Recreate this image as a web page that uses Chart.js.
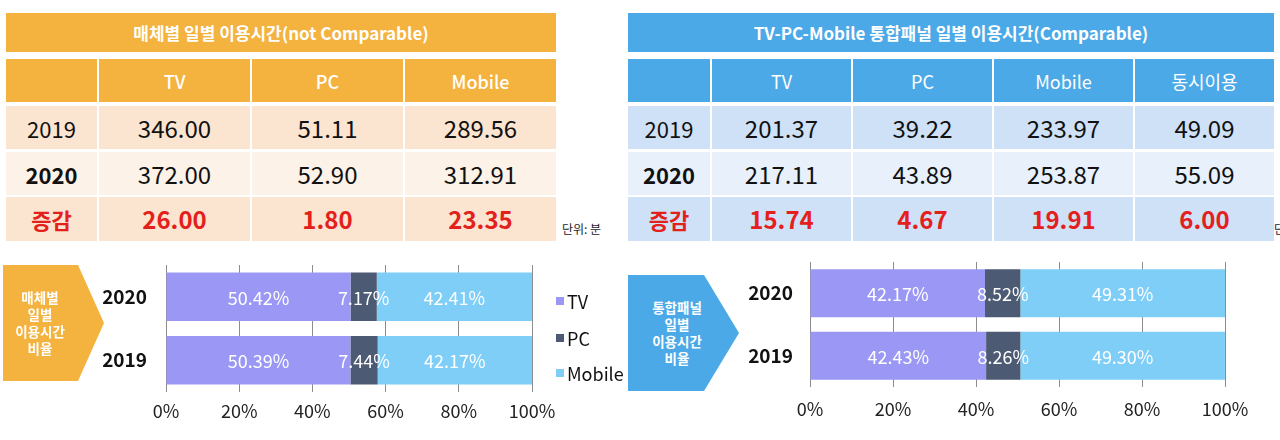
<!DOCTYPE html>
<html><head><meta charset="utf-8">
<script src="https://cdn.jsdelivr.net/npm/chart.js@4.4.0/dist/chart.umd.min.js"></script>
<style>
html,body{margin:0;padding:0;width:1280px;height:440px;overflow:hidden;background:#fff;font-family:"Noto Sans CJK KR","Noto Sans",sans-serif;}
#root{position:relative;width:1280px;height:440px;}
.cell{position:absolute;display:flex;align-items:center;justify-content:center;white-space:nowrap;line-height:1;box-sizing:border-box;}
canvas{position:absolute;}
</style></head><body>
<div id="root">
<canvas id="chartL" width="470" height="185" style="left:100px;top:255px;width:470px;height:185px"></canvas>
<canvas id="chartR" width="520" height="188" style="left:740px;top:252px;width:520px;height:188px"></canvas>
</div>
<script>
// ---------- data ----------
const leftTitle = '매체별 일별 이용시간(not Comparable)';
const rightTitle = 'TV-PC-Mobile 통합패널 일별 이용시간(Comparable)';
const rowLabels = ['2019', '2020', '증감'];
const leftCols = ['TV', 'PC', 'Mobile'];
const left2019 = [346.00, 51.11, 289.56];
const left2020 = [372.00, 52.90, 312.91];
const leftDiff = [26.00, 1.80, 23.35];
const rightCols = ['TV', 'PC', 'Mobile', '동시이용'];
const right2019 = [201.37, 39.22, 233.97, 49.09];
const right2020 = [217.11, 43.89, 253.87, 55.09];
const rightDiff = [15.74, 4.67, 19.91, 6.00];
const unitLabel = '단위: 분';

const seriesNames = ['TV', 'PC', 'Mobile'];
const barYears = ['2020', '2019'];
const tvShareL = [50.42, 50.39];
const pcShareL = [7.17, 7.44];
const mobShareL = [42.41, 42.17];
const tvShareR = [42.17, 42.43];
const pcShareR = [8.52, 8.26];
const mobShareR = [49.31, 49.30];
const xTicks = [0, 20, 40, 60, 80, 100];
const leftArrowText = ['매체별', '일별', '이용시간', '비율'];
const rightArrowText = ['통합패널', '일별', '이용시간', '비율'];

// ---------- styles ----------
const barColors = ['#9a98f4', '#4c5a73', '#7ecef8'];
const RED = '#e3201b';
const FONT = '"Noto Sans CJK KR", "Noto Sans", sans-serif';
const root = document.getElementById('root');

function cell(x, y, w, h, bg, text, style) {
  const d = document.createElement('div');
  d.className = 'cell';
  Object.assign(d.style, {left: x + 'px', top: y + 'px', width: w + 'px', height: h + 'px', background: bg || 'transparent'});
  if (style) Object.assign(d.style, style);
  d.textContent = text || '';
  root.appendChild(d);
  return d;
}

function table(cfg) {
  const {x0, cols, colX, colW, title, head, rowBg, rows} = cfg;
  const totalW = colX[colX.length - 1] + colW[colW.length - 1] - x0;
  cell(x0, 13, totalW, 39, head, title, {color: '#fff', fontWeight: 'bold', fontSize: '17px'});
  const rowY = [59, 106, 152, 197], rowH = [43, 43, 43, 44];
  cell(colX[0], rowY[0], colW[0], rowH[0], head, '');
  cols.forEach((c, i) => cell(colX[i + 1], rowY[0], colW[i + 1], rowH[0], head, c,
    {color: '#fff', fontSize: '18px', fontWeight: cfg.headWeight}));
  rows.forEach((vals, r) => {
    const y = rowY[r + 1], h = rowH[r + 1], bg = rowBg[r];
    const isDiff = r === 2;
    cell(colX[0], y, colW[0], h, bg, rowLabels[r], {
      color: isDiff ? RED : '#111', fontSize: '22px',
      fontWeight: r === 0 ? 'normal' : 'bold'});
    vals.forEach((v, i) => cell(colX[i + 1], y, colW[i + 1], h, bg, v.toFixed(2), {
      color: isDiff ? RED : '#111', fontSize: '24px', fontWeight: isDiff ? 'bold' : 'normal'}));
  });
}

table({x0: 6, cols: leftCols, colX: [6, 99, 252, 405], colW: [91, 151, 151, 151],
  title: leftTitle, head: '#f4b23e', headWeight: '500',
  rowBg: ['#fbe4d0', '#fdf2e8', '#fbe4d0'], rows: [left2019, left2020, leftDiff]});
table({x0: 628, cols: rightCols, colX: [628, 712, 853, 994, 1135], colW: [82, 139, 139, 139, 139],
  title: rightTitle, head: '#4ca9e7', headWeight: 'normal',
  rowBg: ['#cfe1f6', '#e7f0fb', '#cfe1f6'], rows: [right2019, right2020, rightDiff]});

cell(562, 220, 60, 18, null, unitLabel, {fontSize: '12px', color: '#222', justifyContent: 'flex-start'});
cell(1274, 220, 60, 18, null, unitLabel, {fontSize: '12px', color: '#222', justifyContent: 'flex-start'});

// arrows
function arrow(x, y, w, tip, h, color, lines, tx) {
  const d = document.createElement('div');
  Object.assign(d.style, {position: 'absolute', left: x + 'px', top: y + 'px', width: (w + tip) + 'px', height: h + 'px',
    background: color, clipPath: `polygon(0 0, ${w}px 0, 100% 50%, ${w}px 100%, 0 100%)`});
  root.appendChild(d);
  const t = document.createElement('div');
  Object.assign(t.style, {position: 'absolute', left: (tx - 50) + 'px', top: y + 'px', width: '100px', height: h + 'px',
    display: 'flex', flexDirection: 'column', justifyContent: 'center', alignItems: 'center',
    color: '#fff', fontSize: '13.5px', fontWeight: 'bold', lineHeight: '17px'});
  lines.forEach(l => { const s = document.createElement('div'); s.textContent = l; t.appendChild(s); });
  root.appendChild(t);
}
arrow(3, 265, 75, 26, 116, '#f4b23e', leftArrowText, 40);
arrow(628, 275, 76, 35, 116, '#4ca9e7', rightArrowText, 677);

// legend (left chart)
const legY = [301, 338, 373];
seriesNames.forEach((n, i) => {
  cell(556, legY[i] - 4, 8, 8, barColors[i], '');
  cell(567, legY[i] - 11, 70, 22, null, n, {fontSize: '18px', color: '#111', justifyContent: 'flex-start'});
});

// ---------- charts ----------
const labelPlugin = {
  id: 'segLabels',
  afterDatasetsDraw(chart) {
    const ctx = chart.ctx;
    ctx.save();
    ctx.fillStyle = '#fff';
    ctx.font = 'normal 18px ' + FONT;
    ctx.textAlign = 'center';
    ctx.textBaseline = 'middle';
    chart.data.datasets.forEach((ds, di) => {
      chart.getDatasetMeta(di).data.forEach((el, i) => {
        const x = (el.x + el.base) / 2;
        ctx.fillText(ds.data[i].toFixed(2) + '%', x, el.y + 1);
      });
    });
    ctx.restore();
  }
};

function makeChart(id, tv, pc, mob, g) {
  new Chart(document.getElementById(id), {
    type: 'bar',
    data: {
      labels: barYears,
      datasets: [
        {label: seriesNames[0], data: tv, backgroundColor: barColors[0]},
        {label: seriesNames[1], data: pc, backgroundColor: barColors[1]},
        {label: seriesNames[2], data: mob, backgroundColor: barColors[2]}
      ]
    },
    options: {
      indexAxis: 'y', responsive: false, animation: false, maintainAspectRatio: false,
      devicePixelRatio: 1,
      layout: {padding: {top: g.padTop, right: g.padRight, left: 0, bottom: 0}},
      plugins: {legend: {display: false}, tooltip: {enabled: false}},
      datasets: {bar: {barPercentage: 0.765, categoryPercentage: 1}},
      scales: {
        x: {
          stacked: true, min: 0, max: 100,
          afterBuildTicks: s => { s.ticks = xTicks.map(v => ({value: v})); },
          ticks: {callback: v => v + '%', padding: g.xPad, color: '#222', maxRotation: 0,
            font: {size: 18, family: FONT}},
          grid: {color: '#8c8c8c', lineWidth: 1, drawTicks: false},
          border: {display: false},
          afterFit: s => { s.height = g.xH; }
        },
        y: {
          stacked: true,
          ticks: {padding: g.yPad, color: '#111',
            font: {size: 19, weight: 'bold', family: FONT}},
          grid: {display: false, drawTicks: false},
          border: {display: false},
          afterFit: s => { s.width = g.yW; s.paddingTop = 0; s.paddingBottom = 0; }
        }
      }
    },
    plugins: [labelPlugin]
  });
}

makeChart('chartL', tvShareL, pcShareL, mobShareL, {padTop: 10, padRight: 38, xH: 48, yW: 66, xPad: 8, yPad: 19});
makeChart('chartR', tvShareR, pcShareR, mobShareR, {padTop: 10, padRight: 35, xH: 53, yW: 70, xPad: 11, yPad: 17});
</script>
</body></html>
